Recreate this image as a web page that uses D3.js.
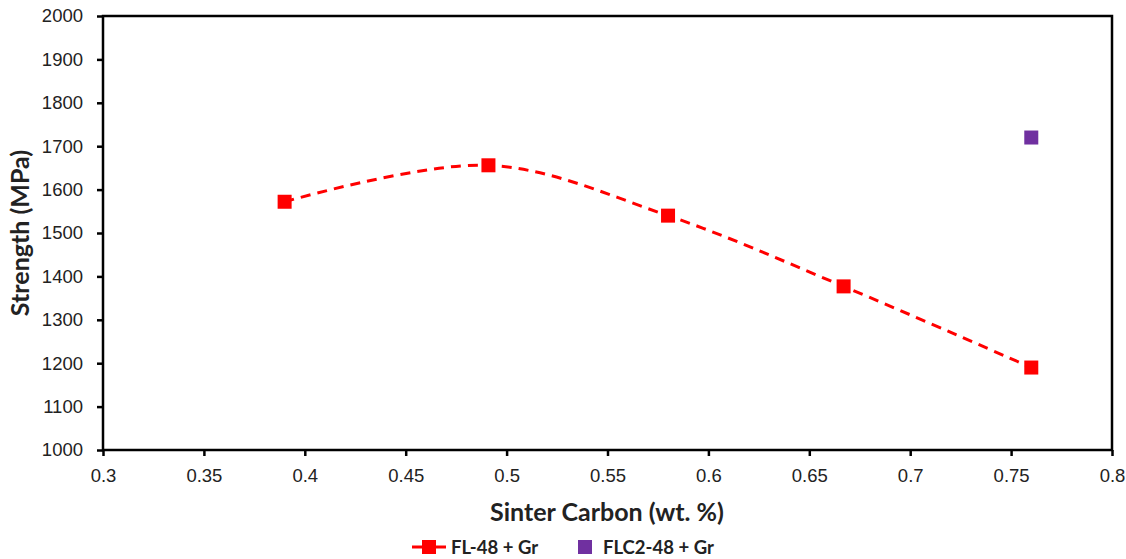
<!DOCTYPE html>
<html>
<head>
  <meta charset="UTF-8" />
  <title>Strength vs Sinter Carbon</title>
  <style>
    html, body { margin: 0; padding: 0; background: #fff; }
    svg { display: block; font-family: Lato, "Open Sans", sans-serif; }
    .tick text { font-size: 18.5px; fill: #222; }
  </style>
</head>
<body>
  <svg id="chart" width="1126" height="559"></svg>

  <script src="https://d3js.org/d3.v7.min.js"></script>
  <script>
    // FL-48 + Gr
    const flCarbon = [0.39, 0.491, 0.58, 0.667, 0.76];
    const flStrength = [1572, 1656, 1540, 1377, 1190];
    // FLC2-48 + Gr
    const flcCarbon = [0.76];
    const flcStrength = [1720];

    const xTicks = [0.3, 0.35, 0.4, 0.45, 0.5, 0.55, 0.6, 0.65, 0.7, 0.75, 0.8];
    const yTicks = [1000, 1100, 1200, 1300, 1400, 1500, 1600, 1700, 1800, 1900, 2000];

    const svg = d3.select("#chart");
    const m = { left: 103, right: 1112, top: 16, bottom: 450 };

    const x = d3.scaleLinear().domain([0.3, 0.8]).range([m.left, m.right]);
    const y = d3.scaleLinear().domain([1000, 2000]).range([m.bottom, m.top]);

    // frame
    svg.append("rect")
      .attr("x", m.left).attr("y", m.top)
      .attr("width", m.right - m.left).attr("height", m.bottom - m.top)
      .attr("fill", "none").attr("stroke", "#000").attr("stroke-width", 2.5);

    const xAxis = svg.append("g")
      .attr("transform", `translate(0,${m.bottom})`)
      .call(d3.axisBottom(x).tickValues(xTicks).tickFormat(d3.format("")).tickSize(6).tickPadding(13));
    const yAxis = svg.append("g")
      .attr("transform", `translate(${m.left},0)`)
      .call(d3.axisLeft(y).tickValues(yTicks).tickFormat(d3.format("d")).tickSize(6).tickPadding(14));
    [xAxis, yAxis].forEach(g => {
      g.select(".domain").remove();
      g.selectAll(".tick line").attr("stroke", "#000").attr("stroke-width", 2.5);
    });

    // dashed smoothed line
    const pts = flCarbon.map((c, i) => [c, flStrength[i]]);
    const line = d3.line()
      .x(d => x(d[0])).y(d => y(d[1]))
      .curve(d3.curveCatmullRom.alpha(0.5));
    svg.append("path")
      .attr("d", line(pts))
      .attr("fill", "none")
      .attr("stroke", "#ff0000")
      .attr("stroke-width", 3)
      .attr("stroke-dasharray", "10,7");

    const sz = 14;
    svg.selectAll(".fl").data(pts).join("rect")
      .attr("x", d => x(d[0]) - sz / 2).attr("y", d => y(d[1]) - sz / 2)
      .attr("width", sz).attr("height", sz)
      .attr("fill", "#ff0000");

    svg.selectAll(".flc").data(flcCarbon.map((c, i) => [c, flcStrength[i]])).join("rect")
      .attr("x", d => x(d[0]) - sz / 2).attr("y", d => y(d[1]) - sz / 2)
      .attr("width", sz).attr("height", sz)
      .attr("fill", "#7030a0");

    // axis titles
    svg.append("text")
      .attr("x", 607).attr("y", 521)
      .attr("text-anchor", "middle")
      .style("font-size", "25px").style("font-weight", "bold").attr("fill", "#222")
      .text("Sinter Carbon (wt. %)");
    svg.append("text")
      .attr("transform", `translate(29,${(m.top + m.bottom) / 2}) rotate(-90)`)
      .attr("text-anchor", "middle")
      .style("font-size", "25px").style("font-weight", "bold").attr("fill", "#222")
      .text("Strength (MPa)");

    // legend
    const lg = svg.append("g").attr("transform", "translate(0,547)");
    lg.append("line").attr("x1", 412).attr("x2", 446).attr("y1", 0).attr("y2", 0)
      .attr("stroke", "#ff0000").attr("stroke-width", 3);
    lg.append("rect").attr("x", 422).attr("y", -7).attr("width", 14).attr("height", 14).attr("fill", "#ff0000");
    lg.append("text").attr("x", 451).attr("y", 7)
      .style("font-size", "18.5px").style("font-weight", "bold").attr("fill", "#222").text("FL-48 + Gr");
    lg.append("rect").attr("x", 578).attr("y", -7).attr("width", 14).attr("height", 14).attr("fill", "#7030a0");
    lg.append("text").attr("x", 603).attr("y", 7)
      .style("font-size", "18.5px").style("font-weight", "bold").attr("fill", "#222").text("FLC2-48 + Gr");
  </script>
</body>
</html>
